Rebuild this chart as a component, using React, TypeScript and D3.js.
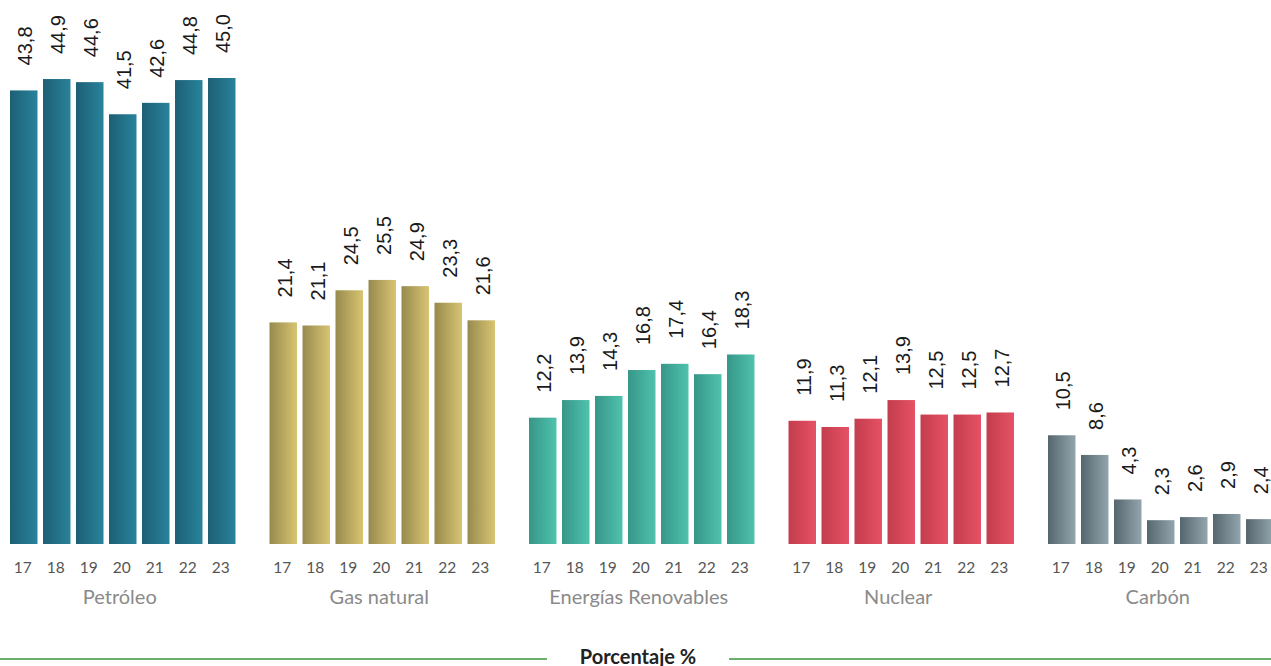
import React from "react";
import * as d3 from "d3";

const categories = ["Petróleo", "Gas natural", "Energías Renovables", "Nuclear", "Carbón"];
const years = ["17", "18", "19", "20", "21", "22", "23"];
const petroleo = [43.8, 44.9, 44.6, 41.5, 42.6, 44.8, 45.0];
const gasNatural = [21.4, 21.1, 24.5, 25.5, 24.9, 23.3, 21.6];
const renovables = [12.2, 13.9, 14.3, 16.8, 17.4, 16.4, 18.3];
const nuclear = [11.9, 11.3, 12.1, 13.9, 12.5, 12.5, 12.7];
const carbon = [10.5, 8.6, 4.3, 2.3, 2.6, 2.9, 2.4];
const seriesValues = [petroleo, gasNatural, renovables, nuclear, carbon];
const gradients = [
  ["#1d5f75", "#28839b"],
  ["#978a4e", "#d8c472"],
  ["#379688", "#4fc2ae"],
  ["#c33d4d", "#e65165"],
  ["#56666f", "#92a5ad"],
];
const axisTitle = "Porcentaje %";

const W = 1271;
const H = 666;

export default function App() {
  const x0 = d3.scaleBand<string>().domain(categories).range([10, 1273.5]).paddingInner(0.131).paddingOuter(0);
  const x1 = d3.scaleBand<string>().domain(years).range([0, x0.bandwidth()]).paddingInner(0.167).paddingOuter(0);
  const maxV = d3.max(seriesValues.flat()) as number;
  const y = d3.scaleLinear().domain([0, maxV]).range([544, 78]);
  const fmt = (v: number) => v.toFixed(1).replace(".", ",");

  return (
    <svg width={W} height={H} style={{ position: "absolute", left: 0, top: 0, background: "#fff" }}>
      <defs>
        {gradients.map((g, i) => (
          <linearGradient key={i} id={`grad${i}`} x1="0" x2="1" y1="0" y2="0">
            <stop offset="0%" stopColor={g[0]} />
            <stop offset="100%" stopColor={g[1]} />
          </linearGradient>
        ))}
      </defs>
      {categories.map((c, ci) => {
        const gx = x0(c) as number;
        return (
          <g key={c} transform={`translate(${gx},0)`}>
            {years.map((yr, yi) => {
              const v = seriesValues[ci][yi];
              const bx = x1(yr) as number;
              const cx = bx + x1.bandwidth() / 2;
              const ly = y(v) - 25;
              return (
                <g key={yr}>
                  <rect x={bx} y={y(v)} width={x1.bandwidth()} height={y(0) - y(v)} fill={`url(#grad${ci})`} />
                  <text
                    transform={`translate(${cx + 1.5},${ly}) rotate(-90)`}
                    textAnchor="start"
                    dominantBaseline="central"
                    fontFamily="'Liberation Sans', Arial, sans-serif"
                    fontSize={20}
                    fill="#1a1a1a"
                  >
                    {fmt(v)}
                  </text>
                  <text
                    x={cx - 1}
                    y={567}
                    textAnchor="middle"
                    dominantBaseline="central"
                    fontFamily="Lato, sans-serif"
                    fontSize={15.5}
                    fill="#555"
                  >
                    {yr}
                  </text>
                </g>
              );
            })}
            <text
              x={x0.bandwidth() / 2 - 3}
              y={604}
              textAnchor="middle"
              fontFamily="Lato, sans-serif"
              fontSize={20}
              fill="#8a8a8a"
            >
              {c}
            </text>
          </g>
        );
      })}
      <line x1={0} x2={547} y1={659} y2={659} stroke="#6aaf6a" strokeWidth={2} />
      <line x1={729} x2={W} y1={659} y2={659} stroke="#6aaf6a" strokeWidth={2} />
      <text
        x={638}
        y={663.5}
        textAnchor="middle"
        fontFamily="Lato, sans-serif"
        fontWeight={700}
        fontSize={20}
        fill="#222"
      >
        {axisTitle}
      </text>
    </svg>
  );
}
